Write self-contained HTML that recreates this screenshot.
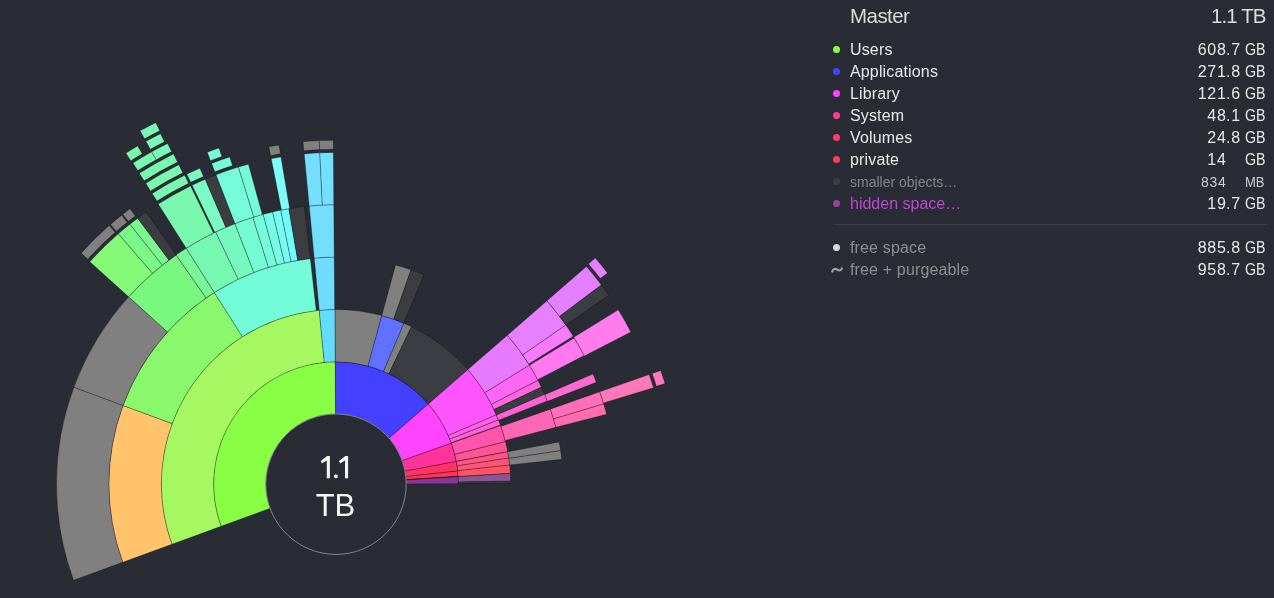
<!DOCTYPE html>
<html><head><meta charset="utf-8"><style>
html,body{margin:0;padding:0;}
body{width:1274px;height:598px;background:#292c35;overflow:hidden;position:relative;font-family:"Liberation Sans",sans-serif;}
svg{position:absolute;left:0;top:0;}
.t{will-change:transform;}
.hdr{position:absolute;top:3.8px;height:30px;color:#dcdcde;font-size:20.5px;line-height:24px;white-space:nowrap;will-change:transform;}
.row{position:absolute;left:830px;width:436px;height:22px;color:#e8e8ea;font-size:16px;line-height:20px;will-change:transform;}
.row .dot{position:absolute;left:3px;top:5.6px;width:7.2px;height:7.2px;border-radius:50%;}
.row .nm{position:absolute;left:20px;top:0;white-space:nowrap;letter-spacing:0.15px;}
.row .ip{position:absolute;right:39.5px;top:0;letter-spacing:0.7px;}
.row .dp{position:absolute;left:396px;top:0;letter-spacing:0.7px;}
.row .unit{position:absolute;left:414.5px;top:0;transform:scaleX(0.89);transform-origin:0 0;}
.row.small{color:#85858a;font-size:14px;}
.row.small .unit{transform:scaleX(0.93);color:#cfcfd2;}
.row.small .ip{color:#cfcfd2;}
.row.hidden .nm{color:#bf46d3;letter-spacing:0;}
.row.small .nm{letter-spacing:0;}
.div{position:absolute;left:833px;width:433px;top:224px;height:1px;background:#3c3e46;}
.ctr{position:absolute;left:285px;width:101px;text-align:center;color:#f6f6f6;font-size:31px;line-height:36px;will-change:transform;}
</style></head><body>
<svg width="1274" height="598" viewBox="0 0 1274 598">
<g stroke="rgba(0,0,0,0.35)" stroke-width="0.8" stroke-linejoin="round">
<path d="M221.05,526.26A122.4,122.4 0 0 1 335.36,361.80L335.63,414.00A70.2,70.2 0 0 0 270.08,508.32Z" fill="#88ff44"/>
<path d="M171.94,544.24A174.7,174.7 0 0 1 319.26,310.30L324.27,362.36A122.4,122.4 0 0 0 221.05,526.26Z" fill="#a6f862"/>
<path d="M319.26,310.30A174.7,174.7 0 0 1 335.09,309.50L335.36,361.80A122.4,122.4 0 0 0 324.27,362.36Z" fill="#62dcff"/>
<path d="M122.73,562.25A227.1,227.1 0 0 1 123.01,405.41L172.15,423.59A174.7,174.7 0 0 0 171.94,544.24Z" fill="#ffc46c"/>
<path d="M123.01,405.41A227.1,227.1 0 0 1 214.31,292.45L242.39,336.70A174.7,174.7 0 0 0 172.15,423.59Z" fill="#8af86c"/>
<path d="M214.31,292.45A227.1,227.1 0 0 1 310.29,258.56L316.22,310.62A174.7,174.7 0 0 0 242.39,336.70Z" fill="#74fcd8"/>
<path d="M314.23,258.15A227.1,227.1 0 0 1 334.22,257.11L334.63,309.51A174.7,174.7 0 0 0 319.26,310.30Z" fill="#70dcff"/>
<path d="M73.52,580.25A279.5,279.5 0 0 1 73.86,387.23L123.01,405.41A227.1,227.1 0 0 0 122.73,562.25Z" fill="#808080"/>
<path d="M73.86,387.23A279.5,279.5 0 0 1 128.62,296.82L167.50,331.95A227.1,227.1 0 0 0 123.01,405.41Z" fill="#808080"/>
<path d="M128.62,296.82A279.5,279.5 0 0 1 176.09,254.97L206.07,297.94A227.1,227.1 0 0 0 167.50,331.95Z" fill="#78f87e"/>
<path d="M176.09,254.97A279.5,279.5 0 0 1 186.24,248.21L214.31,292.45A227.1,227.1 0 0 0 206.07,297.94Z" fill="#7af898"/>
<path d="M186.24,248.21A279.5,279.5 0 0 1 215.67,231.93L238.23,279.22A227.1,227.1 0 0 0 214.31,292.45Z" fill="#76f8b0"/>
<path d="M215.67,231.93A279.5,279.5 0 0 1 234.93,223.62L253.88,272.47A227.1,227.1 0 0 0 238.23,279.22Z" fill="#76fac0"/>
<path d="M234.93,223.62A279.5,279.5 0 0 1 252.88,217.34L268.47,267.37A227.1,227.1 0 0 0 253.88,272.47Z" fill="#76fcd4"/>
<path d="M252.88,217.34A279.5,279.5 0 0 1 263.19,214.35L276.84,264.94A227.1,227.1 0 0 0 268.47,267.37Z" fill="#76fcdc"/>
<path d="M263.19,214.35A279.5,279.5 0 0 1 272.65,211.97L284.53,263.01A227.1,227.1 0 0 0 276.84,264.94Z" fill="#76fce6"/>
<path d="M272.65,211.97A279.5,279.5 0 0 1 280.75,210.21L291.11,261.58A227.1,227.1 0 0 0 284.53,263.01Z" fill="#76fcf0"/>
<path d="M280.75,210.21A279.5,279.5 0 0 1 288.91,208.70L297.74,260.35A227.1,227.1 0 0 0 291.11,261.58Z" fill="#70fcfc"/>
<path d="M288.91,208.70A279.5,279.5 0 0 1 304.36,206.50L310.29,258.56A227.1,227.1 0 0 0 297.74,260.35Z" fill="#3c3d42"/>
<path d="M309.21,205.99A279.5,279.5 0 0 1 333.80,204.71L334.22,257.11A227.1,227.1 0 0 0 314.23,258.15Z" fill="#74deff"/>
<path d="M89.81,261.75A331.8,331.8 0 0 1 118.32,233.79L152.63,273.26A279.5,279.5 0 0 0 128.62,296.82Z" fill="#84fa78"/>
<path d="M118.32,233.79A331.8,331.8 0 0 1 129.90,224.17L162.39,265.16A279.5,279.5 0 0 0 152.63,273.26Z" fill="#7cf888"/>
<path d="M129.90,224.17A331.8,331.8 0 0 1 137.71,218.17L168.96,260.10A279.5,279.5 0 0 0 162.39,265.16Z" fill="#7cf890"/>
<path d="M137.71,218.17A331.8,331.8 0 0 1 146.16,212.07L176.09,254.97A279.5,279.5 0 0 0 168.96,260.10Z" fill="#3c3d42"/>
<path d="M158.21,204.05A331.8,331.8 0 0 1 190.55,185.98L213.48,232.99A279.5,279.5 0 0 0 186.24,248.21Z" fill="#7af8b0"/>
<path d="M192.11,185.22A331.8,331.8 0 0 1 205.29,179.23L225.89,227.30A279.5,279.5 0 0 0 214.79,232.35Z" fill="#7cfac4"/>
<path d="M205.29,179.23A331.8,331.8 0 0 1 216.01,174.85L234.93,223.62A279.5,279.5 0 0 0 225.89,227.30Z" fill="#3c3d42"/>
<path d="M216.01,174.85A331.8,331.8 0 0 1 238.44,167.07L253.82,217.06A279.5,279.5 0 0 0 234.93,223.62Z" fill="#76fcd8"/>
<path d="M238.44,167.07A331.8,331.8 0 0 1 248.45,164.16L262.25,214.61A279.5,279.5 0 0 0 253.82,217.06Z" fill="#76fcd8"/>
<path d="M271.27,158.78A331.8,331.8 0 0 1 280.95,157.00L289.63,208.57A279.5,279.5 0 0 0 281.47,210.07Z" fill="#7efcfa"/>
<path d="M304.20,153.93A331.8,331.8 0 0 1 319.79,152.80L322.35,205.03A279.5,279.5 0 0 0 309.21,205.99Z" fill="#76deff"/>
<path d="M319.79,152.80A331.8,331.8 0 0 1 333.39,152.41L333.80,204.71A279.5,279.5 0 0 0 322.35,205.03Z" fill="#76deff"/>
<path d="M81.16,253.13A344,344 0 0 1 109.19,225.57L115.12,232.33A335,335 0 0 0 87.83,259.17Z" fill="#808080"/>
<path d="M110.54,224.38A344,344 0 0 1 121.62,215.17L127.23,222.21A335,335 0 0 0 116.44,231.18Z" fill="#808080"/>
<path d="M122.80,214.24A344,344 0 0 1 129.94,208.75L135.33,215.95A335,335 0 0 0 128.37,221.30Z" fill="#808080"/>
<path d="M152.18,193.43A344,344 0 0 1 184.66,175.28L188.62,183.36A335,335 0 0 0 156.99,201.04Z" fill="#7af8b0"/>
<path d="M186.82,174.23A344,344 0 0 1 199.93,168.25L203.49,176.52A335,335 0 0 0 190.72,182.34Z" fill="#7cfac4"/>
<path d="M211.60,163.48A344,344 0 0 1 229.70,157.04L232.48,165.60A335,335 0 0 0 214.86,171.87Z" fill="#76fcd8"/>
<path d="M268.89,146.81A344,344 0 0 1 278.93,144.97L280.42,153.84A335,335 0 0 0 270.64,155.64Z" fill="#808080"/>
<path d="M303.03,141.78A344,344 0 0 1 319.20,140.61L319.64,149.60A335,335 0 0 0 303.89,150.74Z" fill="#808080"/>
<path d="M319.20,140.61A344,344 0 0 1 333.30,140.21L333.37,149.21A335,335 0 0 0 319.64,149.60Z" fill="#808080"/>
<path d="M145.77,183.29A356,356 0 0 1 178.82,164.78L182.80,172.85A347,347 0 0 0 150.58,190.89Z" fill="#7af8b0"/>
<path d="M207.26,152.29A356,356 0 0 1 218.92,148.00L221.88,156.50A347,347 0 0 0 210.52,160.68Z" fill="#76fcd8"/>
<path d="M139.36,173.14A368,368 0 0 1 173.53,154.01L177.50,162.08A359,359 0 0 0 144.17,180.75Z" fill="#7af8b0"/>
<path d="M132.95,163.00A380,380 0 0 1 151.77,151.84L156.14,159.72A371,371 0 0 0 137.76,170.61Z" fill="#7af8b0"/>
<path d="M151.77,151.84A380,380 0 0 1 167.63,143.54L171.62,151.60A371,371 0 0 0 156.14,159.72Z" fill="#7af8b8"/>
<path d="M125.96,153.22A392,392 0 0 1 137.63,146.09L142.19,153.86A383,383 0 0 0 130.78,160.82Z" fill="#7af8a8"/>
<path d="M145.95,141.35A392,392 0 0 1 160.48,133.69L164.51,141.74A383,383 0 0 0 150.32,149.22Z" fill="#7af8b8"/>
<path d="M140.14,130.85A404,404 0 0 1 155.74,122.65L159.75,130.70A395,395 0 0 0 144.50,138.73Z" fill="#7af8b8"/>
<path d="M335.36,361.80A122.4,122.4 0 0 1 428.38,403.90L388.98,438.14A70.2,70.2 0 0 0 335.63,414.00Z" fill="#4440ff"/>
<path d="M335.09,309.50A174.7,174.7 0 0 1 381.80,315.61L368.09,366.08A122.4,122.4 0 0 0 335.36,361.80Z" fill="#808080"/>
<path d="M381.80,315.61A174.7,174.7 0 0 1 403.98,323.27L383.63,371.45A122.4,122.4 0 0 0 368.09,366.08Z" fill="#6070ff"/>
<path d="M403.98,323.27A174.7,174.7 0 0 1 411.49,326.65L388.89,373.82A122.4,122.4 0 0 0 383.63,371.45Z" fill="#808080"/>
<path d="M411.49,326.65A174.7,174.7 0 0 1 467.85,369.59L428.38,403.90A122.4,122.4 0 0 0 388.89,373.82Z" fill="#3c3d42"/>
<path d="M395.54,265.04A227.1,227.1 0 0 1 411.06,269.86L393.74,319.32A174.7,174.7 0 0 0 381.80,315.61Z" fill="#808080"/>
<path d="M411.06,269.86A227.1,227.1 0 0 1 424.00,274.84L403.70,323.15A174.7,174.7 0 0 0 393.74,319.32Z" fill="#3c3d42"/>
<path d="M428.38,403.90A122.4,122.4 0 0 1 451.31,443.14L402.13,460.65A70.2,70.2 0 0 0 388.98,438.14Z" fill="#ff44ff"/>
<path d="M467.85,369.59A174.7,174.7 0 0 1 496.33,414.82L448.33,435.59A122.4,122.4 0 0 0 428.38,403.90Z" fill="#ff55ff"/>
<path d="M496.33,414.82A174.7,174.7 0 0 1 498.43,419.89L449.80,439.14A122.4,122.4 0 0 0 448.33,435.59Z" fill="#ff60e4"/>
<path d="M498.43,419.89A174.7,174.7 0 0 1 500.37,425.02L451.16,442.74A122.4,122.4 0 0 0 449.80,439.14Z" fill="#ff60dc"/>
<path d="M507.39,335.21A227.1,227.1 0 0 1 529.43,365.20L484.80,392.66A174.7,174.7 0 0 0 467.85,369.59Z" fill="#e87aff"/>
<path d="M529.43,365.20A227.1,227.1 0 0 1 537.99,380.39L491.38,404.34A174.7,174.7 0 0 0 484.80,392.66Z" fill="#ff66f4"/>
<path d="M537.99,380.39A227.1,227.1 0 0 1 541.32,387.15L493.94,409.54A174.7,174.7 0 0 0 491.38,404.34Z" fill="#ff66e0"/>
<path d="M541.32,387.15A227.1,227.1 0 0 1 544.58,394.37L496.45,415.10A174.7,174.7 0 0 0 493.94,409.54Z" fill="#3c3d42"/>
<path d="M544.58,394.37A227.1,227.1 0 0 1 547.30,400.97L498.54,420.17A174.7,174.7 0 0 0 496.45,415.10Z" fill="#ff62d4"/>
<path d="M546.94,300.83A279.5,279.5 0 0 1 565.79,325.09L522.71,354.92A227.1,227.1 0 0 0 507.39,335.21Z" fill="#e680ff"/>
<path d="M565.79,325.09A279.5,279.5 0 0 1 573.16,336.29L528.70,364.02A227.1,227.1 0 0 0 522.71,354.92Z" fill="#f87aff"/>
<path d="M574.19,337.95A279.5,279.5 0 0 1 584.14,355.57L537.62,379.69A227.1,227.1 0 0 0 529.53,365.37Z" fill="#ff78f0"/>
<path d="M592.90,374.09A279.5,279.5 0 0 1 596.23,382.22L547.44,401.34A227.1,227.1 0 0 0 544.74,394.74Z" fill="#ff6cd0"/>
<path d="M586.41,266.52A331.8,331.8 0 0 1 601.34,284.98L559.51,316.38A279.5,279.5 0 0 0 546.94,300.83Z" fill="#e480ff"/>
<path d="M601.34,284.98A331.8,331.8 0 0 1 608.79,295.31L565.79,325.09A279.5,279.5 0 0 0 559.51,316.38Z" fill="#3c3d42"/>
<path d="M618.30,309.85A331.8,331.8 0 0 1 630.84,332.02L584.37,356.01A279.5,279.5 0 0 0 573.80,337.33Z" fill="#ff7cec"/>
<path d="M595.23,258.06A344,344 0 0 1 607.44,272.89L600.34,278.41A335,335 0 0 0 588.44,263.98Z" fill="#e480ff"/>
<path d="M451.31,443.14A122.4,122.4 0 0 1 456.27,461.47L404.98,471.17A70.2,70.2 0 0 0 402.13,460.65Z" fill="#ff3399"/>
<path d="M500.58,425.60A174.7,174.7 0 0 1 505.44,441.64L454.71,454.38A122.4,122.4 0 0 0 451.31,443.14Z" fill="#ff55aa"/>
<path d="M505.44,441.64A174.7,174.7 0 0 1 507.61,451.46L456.23,461.26A122.4,122.4 0 0 0 454.71,454.38Z" fill="#ff5594"/>
<path d="M550.34,409.14A227.1,227.1 0 0 1 555.87,427.34L505.14,440.46A174.7,174.7 0 0 0 500.88,426.46Z" fill="#ff66b4"/>
<path d="M599.79,391.82A279.5,279.5 0 0 1 603.71,403.88L553.52,418.94A227.1,227.1 0 0 0 550.34,409.14Z" fill="#ff70b8"/>
<path d="M603.71,403.88A279.5,279.5 0 0 1 606.60,414.22L555.87,427.34A227.1,227.1 0 0 0 553.52,418.94Z" fill="#ff6cb0"/>
<path d="M649.15,374.54A331.8,331.8 0 0 1 653.47,387.75L603.43,402.95A279.5,279.5 0 0 0 599.79,391.82Z" fill="#ff78ba"/>
<path d="M660.67,370.50A344,344 0 0 1 664.97,383.62L656.36,386.26A335,335 0 0 0 652.17,373.48Z" fill="#ff78ba"/>
<path d="M456.27,461.47A122.4,122.4 0 0 1 457.68,470.98L405.79,476.62A70.2,70.2 0 0 0 404.98,471.17Z" fill="#ff3366"/>
<path d="M507.66,451.76A174.7,174.7 0 0 1 508.74,458.08L457.02,465.90A122.4,122.4 0 0 0 456.27,461.47Z" fill="#ff5580"/>
<path d="M508.74,458.08A174.7,174.7 0 0 1 509.64,465.03L457.66,470.77A122.4,122.4 0 0 0 457.02,465.90Z" fill="#ff5578"/>
<path d="M559.15,442.04A227.1,227.1 0 0 1 560.61,450.63L508.78,458.38A174.7,174.7 0 0 0 507.66,451.76Z" fill="#808080"/>
<path d="M560.61,450.63A227.1,227.1 0 0 1 561.73,459.28L509.64,465.03A174.7,174.7 0 0 0 508.78,458.38Z" fill="#808080"/>
<path d="M457.68,470.98A122.4,122.4 0 0 1 458.14,476.30L406.05,479.67A70.2,70.2 0 0 0 405.79,476.62Z" fill="#ff3355"/>
<path d="M509.64,465.03A174.7,174.7 0 0 1 510.36,473.23L458.16,476.51A122.4,122.4 0 0 0 457.66,470.77Z" fill="#ff5566"/>
<path d="M458.14,476.30A122.4,122.4 0 0 1 458.17,476.73L406.07,479.91A70.2,70.2 0 0 0 406.05,479.67Z" fill="#3c3d42"/>
<path d="M458.17,476.73A122.4,122.4 0 0 1 458.40,483.77L406.20,483.95A70.2,70.2 0 0 0 406.07,479.91Z" fill="#8a3598"/>
<path d="M510.37,473.53A174.7,174.7 0 0 1 510.67,481.15L458.38,482.06A122.4,122.4 0 0 0 458.17,476.73Z" fill="#8a5696"/>
<path d="M510.67,481.15A174.7,174.7 0 0 1 510.70,483.29L458.40,483.56A122.4,122.4 0 0 0 458.38,482.06Z" fill="#3c3d42"/>
</g>
<circle cx="336.0" cy="484.2" r="70.2" fill="#292c35" stroke="#9a9ba0" stroke-width="0.8"/>
<g fill="#f6f6f6"><path d="M329.9,456 L329.9,478.2 L326.8,478.2 L326.8,460.4 L321.9,463.5 L320.7,460.9 L327.2,456 Z"/>
<path d="M348.1,456 L348.1,478.2 L345,478.2 L345,460.4 L340.1,463.5 L338.9,460.9 L345.4,456 Z"/>
<rect x="334" y="474.6" width="3.8" height="3.6" rx="1.6"/></g>
</svg>
<div class="ctr" style="top:488px">TB</div>
<div class="hdr" style="left:850px;letter-spacing:-0.55px">Master</div>
<div class="hdr" style="right:8px;letter-spacing:-0.9px">1.1 TB</div>
<div class="row" style="top:40.2px"><span class="dot" style="background:#88ff44"></span><span class="nm">Users</span><span class="ip">608</span><span class="dp">.7</span><span class="unit">GB</span></div>
<div class="row" style="top:62.2px"><span class="dot" style="background:#4444ff"></span><span class="nm">Applications</span><span class="ip">271</span><span class="dp">.8</span><span class="unit">GB</span></div>
<div class="row" style="top:84.2px"><span class="dot" style="background:#ff44ff"></span><span class="nm">Library</span><span class="ip">121</span><span class="dp">.6</span><span class="unit">GB</span></div>
<div class="row" style="top:106.2px"><span class="dot" style="background:#ff3d8f"></span><span class="nm">System</span><span class="ip">48</span><span class="dp">.1</span><span class="unit">GB</span></div>
<div class="row" style="top:128.2px"><span class="dot" style="background:#ff3a6a"></span><span class="nm">Volumes</span><span class="ip">24</span><span class="dp">.8</span><span class="unit">GB</span></div>
<div class="row" style="top:150.2px"><span class="dot" style="background:#ff3d55"></span><span class="nm">private</span><span class="ip">14</span><span class="dp"></span><span class="unit">GB</span></div>
<div class="row small" style="top:172.2px"><span class="dot" style="background:#3c3d42"></span><span class="nm">smaller objects…</span><span class="ip">834</span><span class="dp"></span><span class="unit">MB</span></div>
<div class="row hidden" style="top:194.2px"><span class="dot" style="background:#9a40a8"></span><span class="nm">hidden space…</span><span class="ip">19</span><span class="dp">.7</span><span class="unit">GB</span></div>
<div class="div"></div>
<div class="row free" style="top:238.0px;color:#8e8e92"><span class="dot" style="background:#d8d8d8"></span><span class="nm">free space</span><span class="ip" style="color:#e8e8ea">885</span><span class="dp" style="color:#e8e8ea">.8</span><span class="unit" style="color:#e8e8ea">GB</span></div>
<div class="row free" style="top:260.2px;color:#8e8e92"><svg style="position:absolute;left:0;top:0" width="16" height="22"><path d="M2.2,11.6 C3.2,8.6 5.5,8.4 7.2,9.6 C8.8,10.8 10.6,11.2 12,8.4" fill="none" stroke="#a2a2a6" stroke-width="2.1" stroke-linecap="round"/></svg><span class="nm">free + purgeable</span><span class="ip" style="color:#e8e8ea">958</span><span class="dp" style="color:#e8e8ea">.7</span><span class="unit" style="color:#e8e8ea">GB</span></div>
</body></html>
